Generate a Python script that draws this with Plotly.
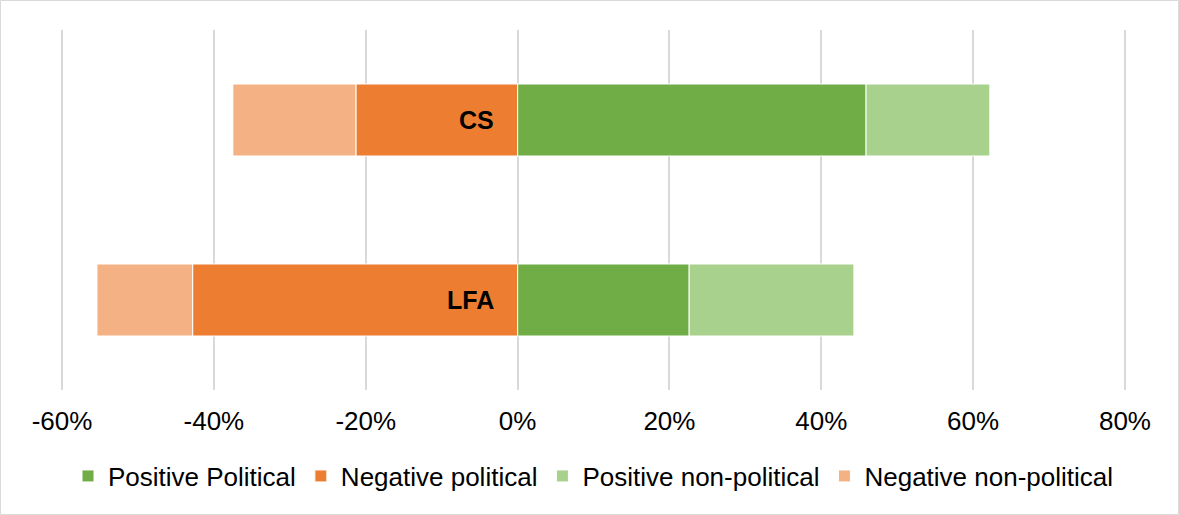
import plotly.graph_objects as go

categories = ["CS", "LFA"]
positive_political = [0.459, 0.226]
negative_political = [-0.213, -0.428]
positive_non_political = [0.163, 0.217]
negative_non_political = [-0.162, -0.126]

series = [
    ("Positive Political", positive_political, "#70AD47"),
    ("Negative political", negative_political, "#ED7D31"),
    ("Positive non-political", positive_non_political, "#A9D18E"),
    ("Negative non-political", negative_non_political, "#F4B183"),
]

tick_vals = [-0.6, -0.4, -0.2, 0, 0.2, 0.4, 0.6, 0.8]
tick_text = ["-60%", "-40%", "-20%", "0%", "20%", "40%", "60%", "80%"]

FONT = "Liberation Sans, Arial"

fig = go.Figure()
for name, vals, color in series:
    fig.add_trace(go.Bar(
        y=categories, x=vals, name=name, orientation="h",
        marker=dict(color=color, line=dict(color="white", width=1)),
        hoverinfo="x+name",
    ))

for c in categories:
    fig.add_annotation(x=0, y=c, xref="x", yref="y", text="<b>%s</b>" % c,
                       showarrow=False, xanchor="right", xshift=-22,
                       font=dict(family=FONT, size=25, color="black"))

L, R, T, B = 59, 51, 30, 125
W, H = 1179, 515
pw, ph = W - L - R, H - T - B
fig.add_shape(type="rect", xref="paper", yref="paper",
              x0=-(L - 0.5) / pw, x1=1 + (R - 0.5) / pw,
              y0=-(B - 0.5) / ph, y1=1 + (T - 0.5) / ph,
              line=dict(color="#D9D9D9", width=1), layer="below")

fig.update_layout(
    width=W, height=H,
    margin=dict(l=L, r=R, t=T, b=B),
    barmode="relative", bargap=0.6,
    plot_bgcolor="white", paper_bgcolor="white",
    font=dict(family=FONT, size=26, color="black"),
    xaxis=dict(range=[-0.604, 0.804], tickvals=tick_vals, ticktext=tick_text,
               showgrid=True, gridcolor="#D9D9D9", gridwidth=2, zeroline=False,
               showline=False, ticks="", ticklabelstandoff=13,
               tickfont=dict(size=26)),
    yaxis=dict(categoryorder="array", categoryarray=categories[::-1],
               showticklabels=False, showgrid=False, zeroline=False, showline=False),
    legend=dict(orientation="h", x=0.5, xanchor="center", y=-0.239, yanchor="middle",
                font=dict(size=26), itemwidth=30, traceorder="normal"),
    showlegend=True,
)

fig.write_html("out.html")
